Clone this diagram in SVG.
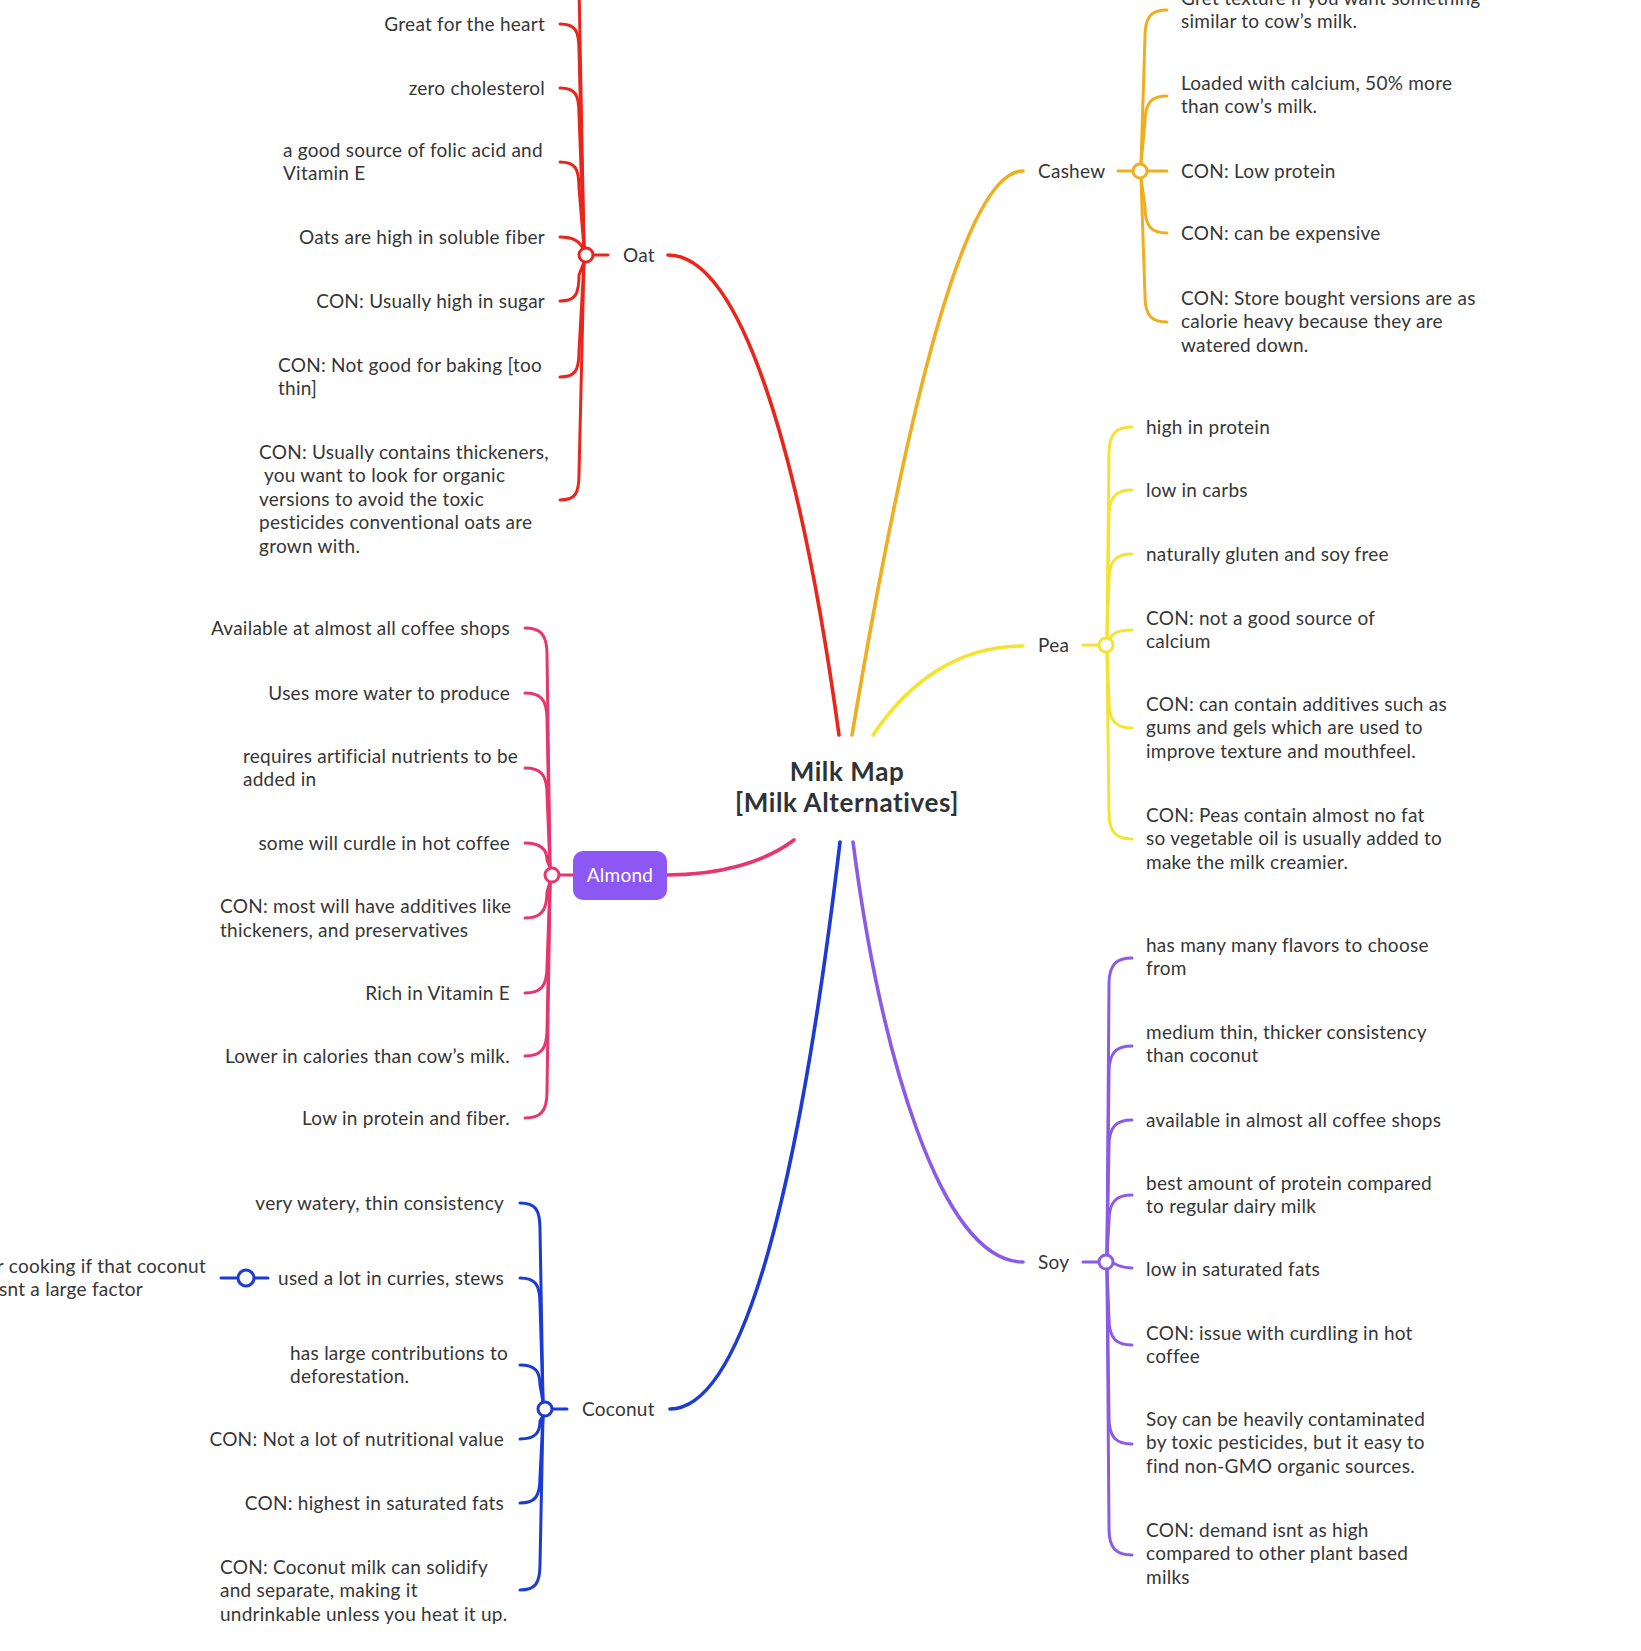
<svg xmlns="http://www.w3.org/2000/svg" width="1641" height="1651" viewBox="0 0 1641 1651">
<style>
text{font-family:Lato,"Noto Sans","Liberation Sans",sans-serif;font-size:19px;letter-spacing:0.25px;fill:#363636}
.r{text-anchor:end}
.title{font-weight:bold;font-size:26px;letter-spacing:0.6px;fill:#2e3338;text-anchor:middle}
.c{fill:none;stroke-width:3;stroke-linecap:round}
.m{fill:none;stroke-width:3.6;stroke-linecap:round}
.oat{stroke:#e8261c}.cas{stroke:#f0ae1f}.pea{stroke:#f5e331}.alm{stroke:#e7356e}.coc{stroke:#1c3ad4}.soy{stroke:#8b5be6}
.dot{fill:#fff;stroke-width:3}
</style>
<rect width="1641" height="1651" fill="#fff"/>
<g id="connectors">
<path class="m oat" d="M668,255 C740,255 800,450 839,735"/>
<path class="m cas" d="M852,735 C900,450 960,171 1023,171"/>
<path class="m pea" d="M873,735 C910,680 960,646 1023,646"/>
<path class="m alm" d="M667,875 C720,875 765,862 794,840"/>
<path class="m coc" d="M670,1409 C745,1409 800,1180 840,842"/>
<path class="m soy" d="M853,842 C880,1050 940,1262 1023,1262"/>
<g class="c oat">
<path d="M560,-40 C575,-40 579,-34 579,-14 L584,248"/>
<path d="M560,24 C575,24 579,30 579,50 L584,248"/>
<path d="M560,88 C575,88 579,94 579,114 L584,248"/>
<path d="M560,162 C575,162 579,168 579,188 L584,248"/>
<path d="M560,237 C572,237 580,241 583,249"/>
<path d="M560,301 C575,301 579,295 579,275 L584,262"/>
<path d="M560,377 C575,377 579,371 579,351 L584,262"/>
<path d="M560,500 C575,500 579,494 579,474 L584,262"/>
<path d="M593,255 L608,255"/>
</g>
<g class="c cas">
<path d="M1167,10 C1152,10 1145,16 1145,36 L1141,164"/>
<path d="M1167,96 C1152,96 1145,102 1145,122 L1141,164"/>
<path d="M1147,171 L1167,171"/>
<path d="M1167,233 C1152,233 1145,227 1145,207 L1141,178"/>
<path d="M1167,322 C1152,322 1145,316 1145,296 L1141,178"/>
<path d="M1118,171 L1133,171"/>
</g>
<g class="c pea">
<path d="M1132,427 C1117,427 1109,433 1109,453 L1107,638"/>
<path d="M1132,490 C1117,490 1109,496 1109,516 L1107,638"/>
<path d="M1132,554 C1117,554 1109,560 1109,580 L1107,638"/>
<path d="M1132,630 C1120,630 1112,633 1110,639"/>
<path d="M1132,728 C1117,728 1109,722 1109,702 L1107,652"/>
<path d="M1132,839 C1117,839 1109,833 1109,813 L1107,652"/>
<path d="M1083,645 L1099,645"/>
</g>
<g class="c alm">
<path d="M525,628 C540,628 547,634 547,654 L550,868"/>
<path d="M525,693 C540,693 547,699 547,719 L550,868"/>
<path d="M525,768 C540,768 547,774 547,794 L550,868"/>
<path d="M525,843 C540,843 547,849 547,860 L550,868"/>
<path d="M525,918 C540,918 547,912 547,892 L550,882"/>
<path d="M525,993 C540,993 547,987 547,967 L550,882"/>
<path d="M525,1056 C540,1056 547,1050 547,1030 L550,882"/>
<path d="M525,1118 C540,1118 547,1112 547,1092 L550,882"/>
<path d="M559,875 L573,875"/>
</g>
<g class="c coc">
<path d="M520,1203 C535,1203 540,1209 540,1229 L543,1402"/>
<path d="M520,1278 C535,1278 540,1284 540,1304 L543,1402"/>
<path d="M520,1365 C535,1365 540,1371 540,1385 L543,1402"/>
<path d="M520,1439 C535,1439 540,1433 540,1421 L543,1416"/>
<path d="M520,1503 C535,1503 540,1497 540,1477 L543,1416"/>
<path d="M520,1590 C535,1590 540,1584 540,1564 L543,1416"/>
<path d="M552,1409 L567,1409"/>
<path d="M268,1278 L255,1278"/>
<path d="M237,1278 L221,1278"/>
</g>
<g class="c soy">
<path d="M1132,958 C1117,958 1109,964 1109,984 L1107,1255"/>
<path d="M1132,1046 C1117,1046 1109,1052 1109,1072 L1107,1255"/>
<path d="M1132,1120 C1117,1120 1109,1126 1109,1146 L1107,1255"/>
<path d="M1132,1195 C1117,1195 1109,1201 1109,1221 L1107,1255"/>
<path d="M1132,1268 C1122,1268 1117,1265 1113,1263"/>
<path d="M1132,1345 C1117,1345 1109,1339 1109,1319 L1107,1269"/>
<path d="M1132,1444 C1117,1444 1109,1438 1109,1418 L1107,1269"/>
<path d="M1132,1555 C1117,1555 1109,1549 1109,1529 L1107,1269"/>
<path d="M1083,1262 L1099,1262"/>
</g>
</g>
<g id="root">
<text class="title" x="847" y="781">Milk Map</text>
<text class="title" x="847" y="812">[Milk Alternatives]</text>
</g>
<g id="oat">
<circle class="dot oat" cx="586" cy="255" r="7"/>
<text x="623" y="261.5">Oat</text>
</g>
<g id="oat-leaves">
<text class="r" x="545" y="30.5">Great for the heart</text>
<text class="r" x="545" y="94.5">zero cholesterol</text>
<text x="283" y="156.5">a good source of folic acid and<tspan x="283" dy="23.5">Vitamin E</tspan></text>
<text class="r" x="545" y="243.5">Oats are high in soluble fiber</text>
<text class="r" x="545" y="307.5">CON: Usually high in sugar</text>
<text x="278" y="371.5">CON: Not good for baking [too<tspan x="278" dy="23.5">thin]</tspan></text>
<text x="259" y="458.5">CON: Usually contains thickeners,<tspan x="264" dy="23.5">you want to look for organic</tspan><tspan x="259" dy="23.5">versions to avoid the toxic</tspan><tspan x="259" dy="23.5">pesticides conventional oats are</tspan><tspan x="259" dy="23.5">grown with.</tspan></text>
</g>
<g id="cashew">
<circle class="dot cas" cx="1140" cy="171" r="7"/>
<text x="1038" y="177.5">Cashew</text>
</g>
<g id="cashew-leaves">
<text x="1181" y="4.5">Gret texture if you want something<tspan x="1181" dy="23.5">similar to cow’s milk.</tspan></text>
<text x="1181" y="89.5">Loaded with calcium, 50% more<tspan x="1181" dy="23.5">than cow’s milk.</tspan></text>
<text x="1181" y="177.5">CON: Low protein</text>
<text x="1181" y="239.5">CON: can be expensive</text>
<text x="1181" y="304.5">CON: Store bought versions are as<tspan x="1181" dy="23.5">calorie heavy because they are</tspan><tspan x="1181" dy="23.5">watered down.</tspan></text>
</g>
<g id="pea">
<circle class="dot pea" cx="1106" cy="645" r="7"/>
<text x="1038" y="651.5">Pea</text>
</g>
<g id="pea-leaves">
<text x="1146" y="433.5">high in protein</text>
<text x="1146" y="496.5">low in carbs</text>
<text x="1146" y="560.5">naturally gluten and soy free</text>
<text x="1146" y="624.5">CON: not a good source of<tspan x="1146" dy="23.5">calcium</tspan></text>
<text x="1146" y="710.5">CON: can contain additives such as<tspan x="1146" dy="23.5">gums and gels which are used to</tspan><tspan x="1146" dy="23.5">improve texture and mouthfeel.</tspan></text>
<text x="1146" y="821.5">CON: Peas contain almost no fat<tspan x="1146" dy="23.5">so vegetable oil is usually added to</tspan><tspan x="1146" dy="23.5">make the milk creamier.</tspan></text>
</g>
<g id="almond">
<circle class="dot alm" cx="552" cy="875" r="7"/>
<rect x="573" y="851" width="94" height="49" rx="10" fill="#8c57f2"/>
<text x="620" y="882" style="fill:#fff;text-anchor:middle">Almond</text>
</g>
<g id="almond-leaves">
<text class="r" x="510" y="634.5">Available at almost all coffee shops</text>
<text class="r" x="510" y="699.5">Uses more water to produce</text>
<text x="243" y="762.5">requires artificial nutrients to be<tspan x="243" dy="23.5">added in</tspan></text>
<text class="r" x="510" y="849.5">some will curdle in hot coffee</text>
<text x="220" y="913">CON: most will have additives like<tspan x="220" dy="23.5">thickeners, and preservatives</tspan></text>
<text class="r" x="510" y="999.5">Rich in Vitamin E</text>
<text class="r" x="510" y="1062.5">Lower in calories than cow’s milk.</text>
<text class="r" x="510" y="1124.5">Low in protein and fiber.</text>
</g>
<g id="coconut">
<circle class="dot coc" cx="545" cy="1409" r="7"/>
<text x="582" y="1415.5">Coconut</text>
</g>
<g id="coconut-leaves">
<text class="r" x="504" y="1209.5">very watery, thin consistency</text>
<text class="r" x="504" y="1284.5">used a lot in curries, stews</text>
<text x="290" y="1359.5">has large contributions to<tspan x="290" dy="23.5">deforestation.</tspan></text>
<text class="r" x="504" y="1445.5">CON: Not a lot of nutritional value</text>
<text class="r" x="504" y="1509.5">CON: highest in saturated fats</text>
<text x="220" y="1573.5">CON: Coconut milk can solidify<tspan x="220" dy="23.5">and separate, making it</tspan><tspan x="220" dy="23.5">undrinkable unless you heat it up.</tspan></text>
</g>
<g id="coconut-sub">
<circle class="dot coc" cx="246" cy="1278" r="8"/>
<text class="r" x="206" y="1272.5">r cooking if that coconut</text>
<text x="-1" y="1296">snt a large factor</text>
</g>
<g id="soy">
<circle class="dot soy" cx="1106" cy="1262" r="7"/>
<text x="1038" y="1268.5">Soy</text>
</g>
<g id="soy-leaves">
<text x="1146" y="951.5">has many many flavors to choose<tspan x="1146" dy="23.5">from</tspan></text>
<text x="1146" y="1038.5">medium thin, thicker consistency<tspan x="1146" dy="23.5">than coconut</tspan></text>
<text x="1146" y="1126.5">available in almost all coffee shops</text>
<text x="1146" y="1189.5">best amount of protein compared<tspan x="1146" dy="23.5">to regular dairy milk</tspan></text>
<text x="1146" y="1275.5">low in saturated fats</text>
<text x="1146" y="1339.5">CON: issue with curdling in hot<tspan x="1146" dy="23.5">coffee</tspan></text>
<text x="1146" y="1425.5">Soy can be heavily contaminated<tspan x="1146" dy="23.5">by toxic pesticides, but it easy to</tspan><tspan x="1146" dy="23.5">find non-GMO organic sources.</tspan></text>
<text x="1146" y="1536.5">CON: demand isnt as high<tspan x="1146" dy="23.5">compared to other plant based</tspan><tspan x="1146" dy="23.5">milks</tspan></text>
</g>
</svg>
